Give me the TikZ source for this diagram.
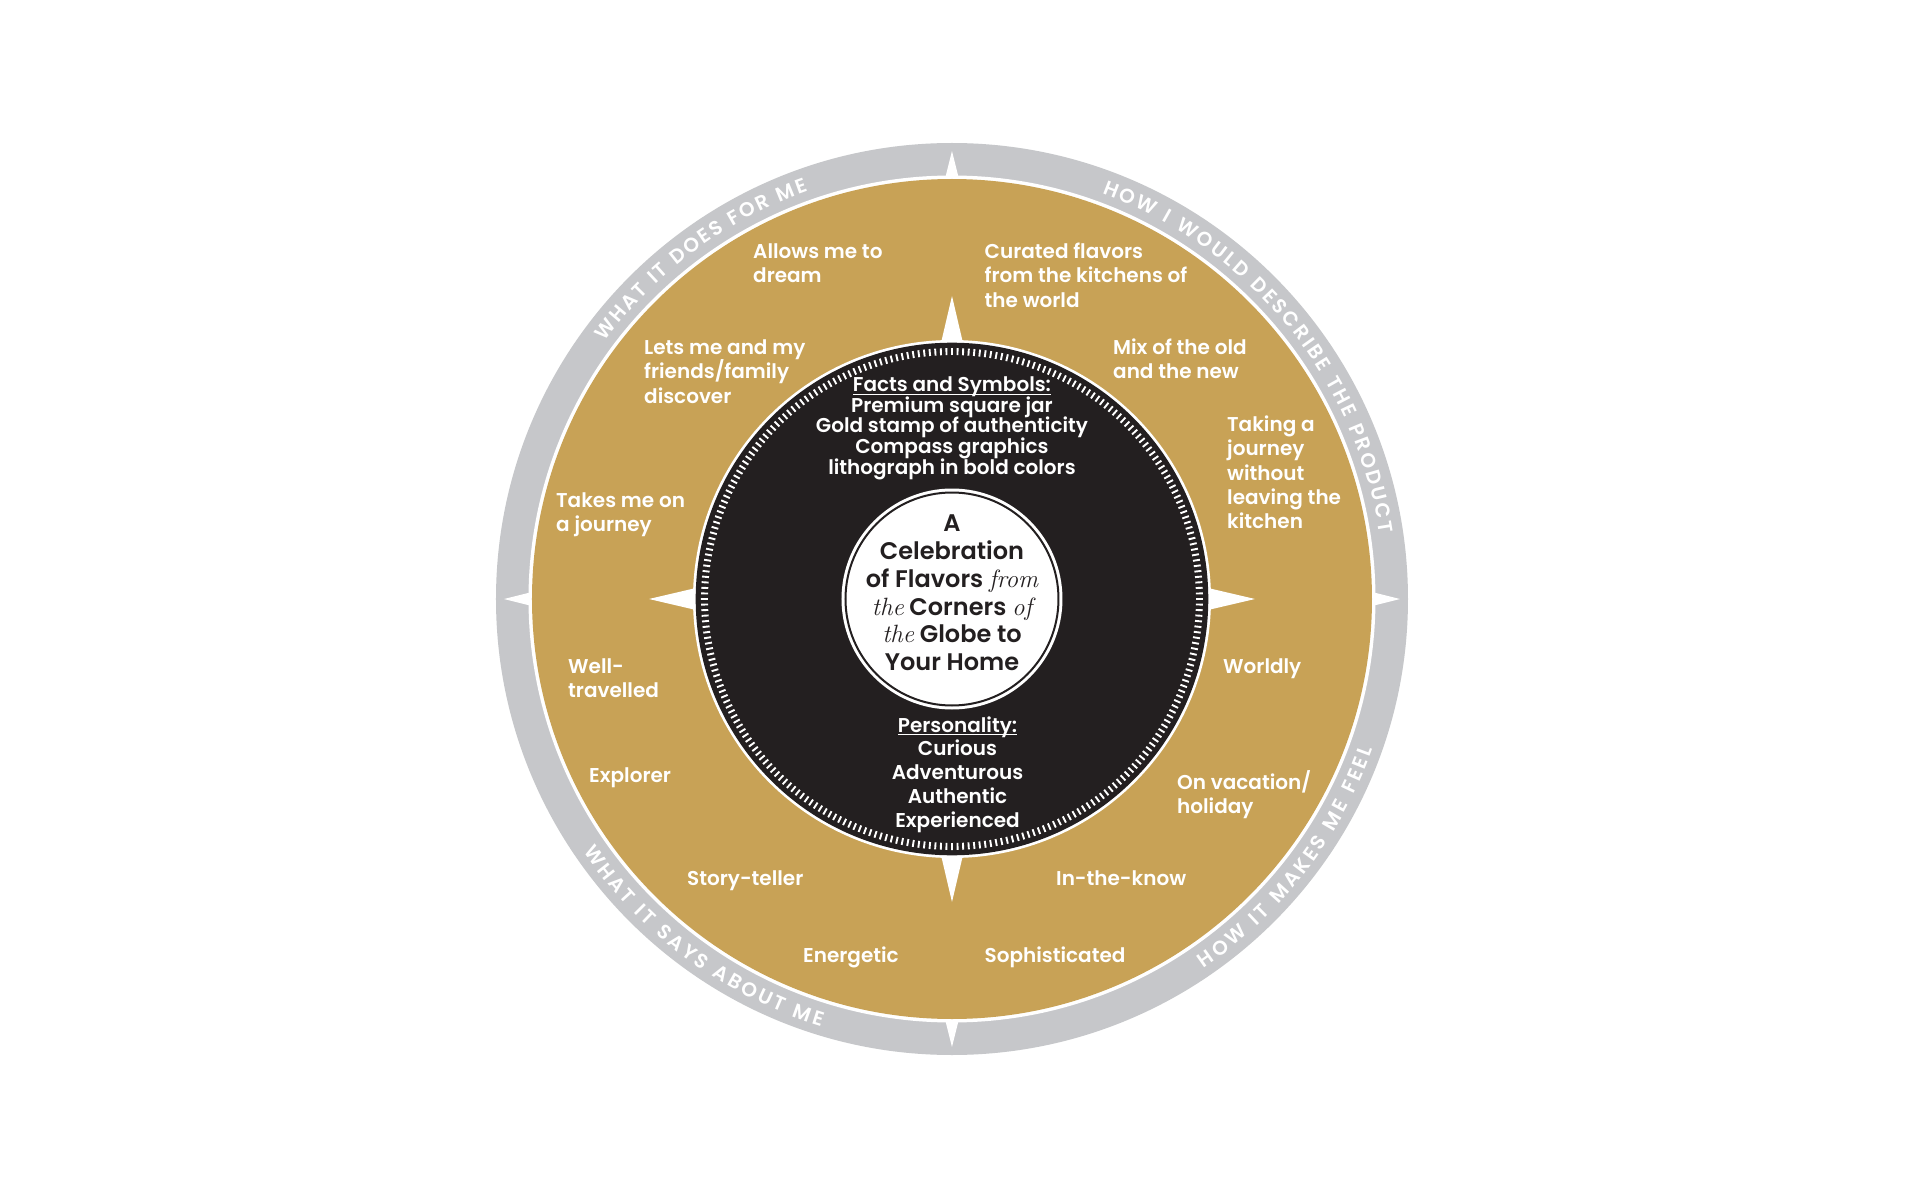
\documentclass[tikz,border=0pt]{standalone}
\usepackage{fontspec}
\IfFontExistsTF{Poppins SemiBold}
  {\newfontfamily\gfont{Poppins}[BoldFont={Poppins SemiBold}]}
  {\newfontfamily\gfont{Poppins}}
\usetikzlibrary{decorations.text}
\definecolor{gold}{HTML}{C8A256}
\definecolor{ringgray}{HTML}{C6C7CA}
\definecolor{ink}{HTML}{231F20}
\newcommand\serit[1]{{\rmfamily\mdseries\itshape\fontsize{25}{28}\selectfont #1}}
\newcommand\labfont{\gfont\bfseries\fontsize{20}{20}\selectfont\color{white}}
\newcommand\ulx[1]{\setbox0\hbox{#1}\rlap{\rule[-3pt]{\wd0}{1.4pt}}\box0}
\tikzset{
  goldtext/.style={font=\gfont\bfseries\fontsize{20}{24}\selectfont, text=white, inner sep=0pt, anchor=base west},
  blacktext/.style={font=\gfont\bfseries\fontsize{20}{24}\selectfont, text=white, inner sep=0pt, anchor=base},
  centertext/.style={font=\gfont\bfseries\fontsize{24}{28}\selectfont, text=ink, inner sep=0pt, anchor=base},
  ringlabel/.style={decorate, decoration={text along path, text align={fit to path}, text={#1}}},
  tickmark/.style={white, line width=1.9pt},
}
\newcommand\gblock[5]{\foreach \txt [count=\i from 0] in {#5}{\node[goldtext] (#1-\i) at (#2,#3-\i*#4) {\txt};}}
\newcommand\cblock[5]{\foreach \txt [count=\i from 0] in {#5}{\node[blacktext] (#1-\i) at (#2,#3-\i*#4) {\txt};}}
\begin{document}
\begin{tikzpicture}[x=1pt,y=1pt]
\useasboundingbox (-952,-601) rectangle (968,599);
\fill[white] (-952,-601) rectangle (968,599);
% rings
\fill[ringgray] (0,0) circle (456);
\fill[white] (448,0) -- (89.6,89.6) -- (0,448) -- (-89.6,89.6) -- (-448,0) -- (-89.6,-89.6) -- (0,-448) -- (89.6,-89.6) -- cycle;
\fill[white] (0,0) circle (423.5);
\fill[gold] (0,0) circle (420);
\fill[white] (303,0) -- (57.5,57.5) -- (0,303) -- (-57.5,57.5) -- (-303,0) -- (-57.5,-57.5) -- (0,-303) -- (57.5,-57.5) -- cycle;
\fill[white] (0,0) circle (259);
\fill[ink] (0,0) circle (256.3);
\foreach \k in {0,...,279} \draw[tickmark] (\k*1.2857143:244) -- (\k*1.2857143:251);
\fill[white] (0,0) circle (110.5);
\draw[ink, line width=2pt] (0,0) circle (106.5);
% ring labels
\path[ringlabel={|\labfont|WHAT IT DOES FOR ME}] (143.5:432.5) arc[start angle=143.5, end angle=109.4, radius=432.5];
\path[ringlabel={|\labfont|HOW I WOULD DESCRIBE THE PRODUCT}] (69.7:432.5) arc[start angle=69.7, end angle=8.7, radius=432.5];
\path[ringlabel={|\labfont|WHAT IT SAYS ABOUT ME}] (214.4:447) arc[start angle=214.4, end angle=253, radius=447];
\path[ringlabel={|\labfont|HOW IT MAKES ME FEEL}] (-55.7:447) arc[start angle=-55.7, end angle=-19.6, radius=447];
% center text
\node[centertext] (c0) at (0,67.5) {A};
\node[centertext] (c1) at (0,40) {Celebration};
\node[centertext] (c2) at (0,12) {of Flavors \serit{from}};
\node[centertext] (c3) at (0,-16) {\serit{the} Corners \serit{of}};
\node[centertext] (c4) at (0,-43.5) {\serit{the} Globe to};
\node[centertext] (c5) at (0,-71.5) {Your Home};
% black ring text
\cblock{facts}{0}{207}{20.5}{\ulx{Facts and Symbols:}, Premium square jar, Gold stamp of authenticity, Compass graphics, lithograph in bold colors}
\cblock{pers}{5.5}{-133}{23.75}{\ulx{Personality:}, Curious, Adventurous, Authentic, Experienced}
% gold ring text
\gblock{g1}{-199}{340.5}{24.3}{Allows me to, dream}
\gblock{g2}{32.5}{340.5}{24.3}{Curated flavors, from the kitchens of, the world}
\gblock{g3}{-308}{244.5}{24.3}{Lets me and my, friends/family, discover}
\gblock{g4}{161}{244.5}{24.3}{Mix of the old, and the new}
\gblock{g5}{275}{167.5}{24.3}{Taking a, journey, without, leaving the, kitchen}
\gblock{g6}{-396}{91.5}{24.3}{Takes me on, a journey}
\gblock{g7}{-384}{-74.5}{24.3}{Well-, travelled}
\gblock{g8}{271}{-74.5}{24.3}{Worldly}
\gblock{g9}{-363}{-183.5}{24.3}{Explorer}
\gblock{g10}{225}{-190}{24.3}{On vacation/, holiday}
\gblock{g11}{-265}{-286.5}{24.3}{Story-teller}
\gblock{g12}{104}{-286.5}{24.3}{In-the-know}
\gblock{g13}{-149}{-363.5}{24.3}{Energetic}
\gblock{g14}{32.5}{-363.5}{24.3}{Sophisticated}
\end{tikzpicture}
\end{document}
